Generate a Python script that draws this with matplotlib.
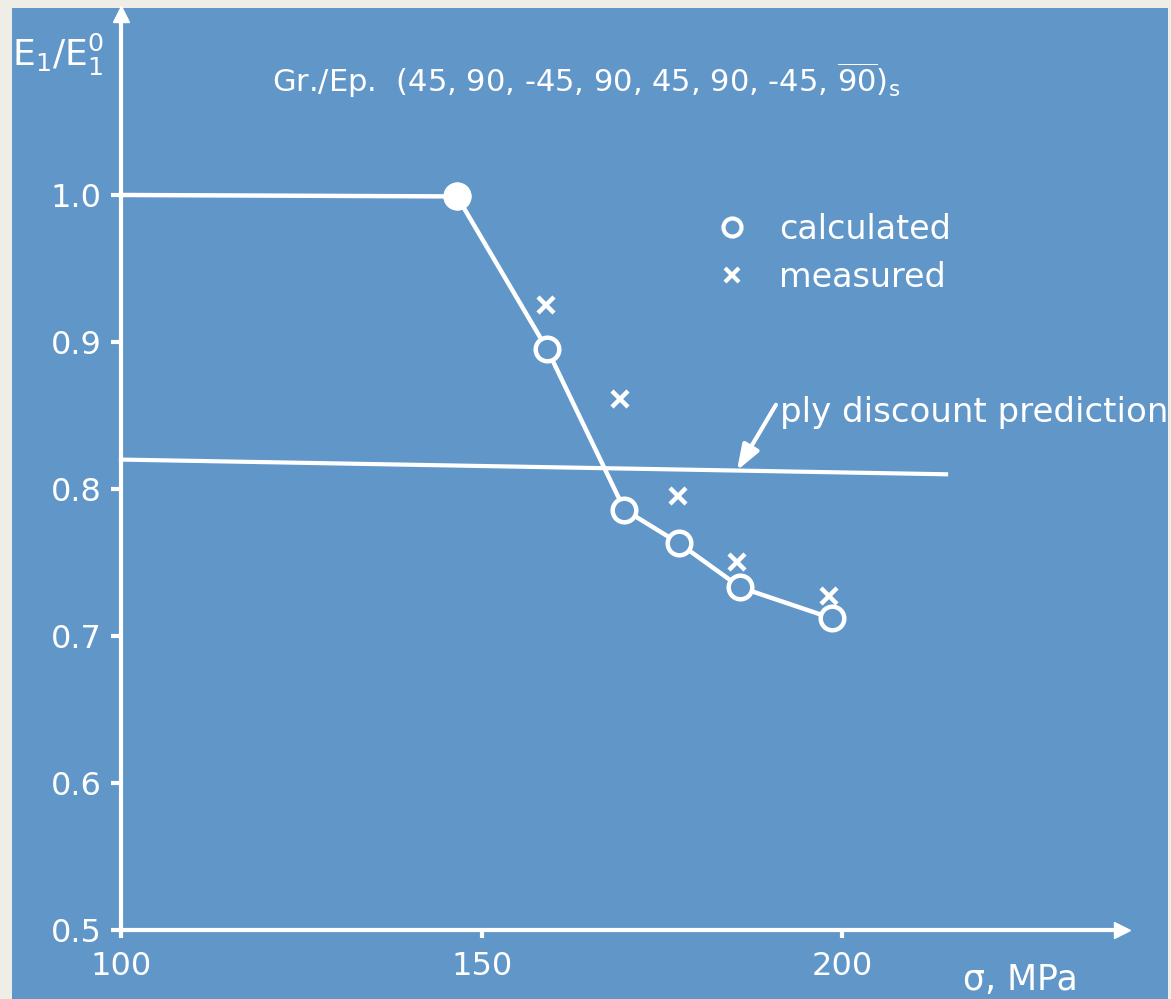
import matplotlib
matplotlib.use("Agg")
import matplotlib.pyplot as plt
from matplotlib.lines import Line2D
from matplotlib.patches import Rectangle

# Stress (MPa) and normalised stiffness E1/E1^0
calc_sigma = [146.6, 159.1, 169.8, 177.4, 185.9, 198.6]
calc_ratio = [0.999, 0.895, 0.786, 0.763, 0.733, 0.712]
meas_sigma = [158.9, 169.2, 177.3, 185.4, 198.2]
meas_ratio = [0.925, 0.861, 0.795, 0.750, 0.727]
plateau_sigma = 100
plateau_ratio = 1.0
ply_sigma = [100, 214.4]
ply_ratio = [0.820, 0.810]

x_ticks = [100, 150, 200]
y_ticks = [0.5, 0.6, 0.7, 0.8, 0.9, 1.0]
y_tick_labels = ["0.5", "0.6", "0.7", "0.8", "0.9", "1.0"]

BLUE = "#6196c8"
BEIGE = "#efeee6"
WHITE = "white"

plt.rcParams["font.family"] = ["DejaVu Sans"]
plt.rcParams["mathtext.fontset"] = "dejavusans"

W, H = 1171, 999
fig = plt.figure(figsize=(W / 100, H / 100), dpi=100, facecolor=BEIGE)
fig.patches.append(Rectangle((12 / W, 0), (1168 - 12) / W, (H - 8) / H,
                             transform=fig.transFigure, facecolor=BLUE,
                             edgecolor="none", zorder=-10))

ax = fig.add_axes([121 / W, (H - 930) / H, (1122 - 121) / W, (930 - 14) / H])
ax.set_zorder(2)
ax.set_facecolor("none")
ax.set_xlim(100, 238.8)
ax.set_ylim(0.5, 1.1231)

for side in ("top", "right"):
    ax.spines[side].set_visible(False)
for side in ("left", "bottom"):
    ax.spines[side].set_color(WHITE)
    ax.spines[side].set_linewidth(3)

# arrow heads at the ends of both axes
ax.plot(1, 0, marker=">", ms=11, color=WHITE, transform=ax.transAxes, clip_on=False)
ax.plot(0, 1, marker="^", ms=11, color=WHITE, transform=ax.transAxes, clip_on=False)

ax.set_xticks(x_ticks)
ax.set_yticks(y_ticks)
ax.set_yticklabels(y_tick_labels)
ax.tick_params(axis="both", colors=WHITE, width=3, labelsize=23)
ax.tick_params(axis="y", length=7, pad=7)
ax.tick_params(axis="x", length=6, pad=9)

# calculated curve: plateau then degradation
line_x = [plateau_sigma] + calc_sigma
line_y = [plateau_ratio] + calc_ratio
ax.plot(line_x, line_y, color=WHITE, lw=3.2, zorder=3, clip_on=False)
ax.plot(calc_sigma, calc_ratio, ls="none", marker="o", ms=17, mew=3.2,
        mec=WHITE, mfc=BLUE, zorder=4, clip_on=False)
ax.plot(calc_sigma[:1], calc_ratio[:1], ls="none", marker="o", ms=17, mew=3.2,
        mec=WHITE, mfc=WHITE, zorder=5, clip_on=False)

# measured points
ax.plot(meas_sigma, meas_ratio, ls="none", marker="x", ms=12, mew=3.2,
        color=WHITE, zorder=4, clip_on=False)

# ply discount prediction
ax.plot(ply_sigma, ply_ratio, color=WHITE, lw=3, zorder=2, clip_on=False)
ax.annotate("ply discount prediction", xy=(185.4, 0.8125), xytext=(191.4, 0.852),
            color=WHITE, fontsize=24.5, ha="left", va="center",
            arrowprops=dict(arrowstyle="-|>,head_length=0.7,head_width=0.25",
                            color=WHITE, lw=3, mutation_scale=22,
                            shrinkA=2, shrinkB=0, relpos=(0, 0.95)))

# legend
handles = [Line2D([], [], ls="none", marker="o", ms=13, mew=3, mec=WHITE, mfc=BLUE),
           Line2D([], [], ls="none", marker="x", ms=10, mew=3, color=WHITE)]
leg = fig.legend(handles, ["calculated", "measured"], loc="upper left",
                 bbox_to_anchor=(699 / W, 1 - 196 / H), frameon=False,
                 fontsize=24, labelcolor=WHITE, handlelength=1.0,
                 handletextpad=0.9, labelspacing=0.45, borderpad=0)

# axis labels and title
fig.text(12 / W, 1 - 66 / H, r"E$_1$/E$_1^0$", color=WHITE, fontsize=26,
         ha="left", va="baseline")
fig.text(963 / W, 1 - 990 / H, "σ, MPa", color=WHITE, fontsize=25,
         ha="left", va="baseline")
fig.text(272 / W, 1 - 92 / H,
         r"Gr./Ep.  (45, 90, -45, 90, 45, 90, -45, $\overline{90}$)$_\mathrm{s}$",
         color=WHITE, fontsize=22, ha="left", va="baseline")

fig.savefig("out.png", dpi=100, facecolor=BEIGE)
